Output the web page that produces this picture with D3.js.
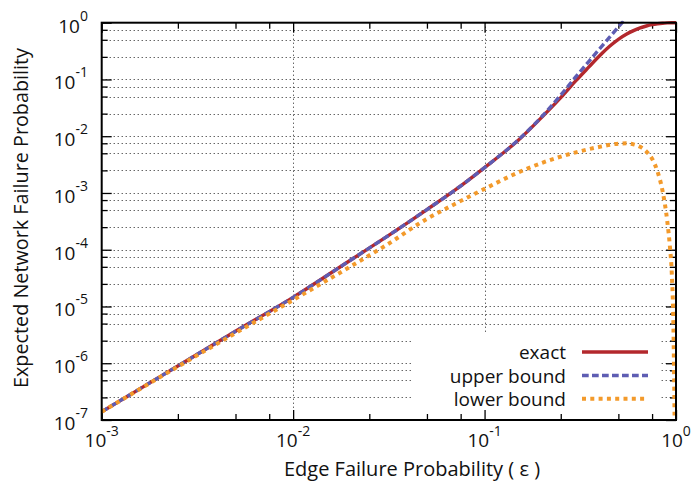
<!DOCTYPE html>
<html>
<head>
<meta charset="utf-8">
<script src="https://cdn.jsdelivr.net/npm/d3@7"></script>
<style>
  body { margin: 0; background: #fff; }
  text { font-family: "Open Sans", sans-serif; fill: #111; }
</style>
</head>
<body>
<script>
// edge failure probability (x) and the three curves
var epsExact = [0.001, 0.002, 0.005, 0.01, 0.02, 0.03, 0.05, 0.07, 0.1, 0.15, 0.2, 0.25, 0.3, 0.35, 0.4, 0.45, 0.5, 0.55, 0.6, 0.65, 0.7, 0.75, 0.8, 0.85, 0.9, 0.95, 1.0];
var exact    = [1.4e-7, 5.7e-7, 3.65e-6, 1.45e-5, 6.6e-5, 1.6e-4, 5.1e-4, 1.12e-3, 2.8e-3, 8.5e-3, 2.2e-2, 4.8e-2, 9.5e-2, 0.165, 0.265, 0.385, 0.51, 0.625, 0.725, 0.81, 0.875, 0.925, 0.958, 0.98, 0.992, 0.998, 1.0];

var epsUpper = [0.001, 0.002, 0.005, 0.01, 0.02, 0.03, 0.05, 0.07, 0.1, 0.15, 0.2, 0.25, 0.3, 0.35, 0.4, 0.45, 0.5, 0.55, 0.6];
var upper    = [1.4e-7, 5.7e-7, 3.65e-6, 1.45e-5, 6.6e-5, 1.6e-4, 5.1e-4, 1.12e-3, 2.8e-3, 8.6e-3, 2.25e-2, 5.3e-2, 0.112, 0.207, 0.35, 0.555, 0.84, 1.22, 1.7];

var epsLower = [0.001, 0.002, 0.005, 0.01, 0.02, 0.03, 0.05, 0.07, 0.1, 0.15, 0.2, 0.3, 0.4, 0.5, 0.55, 0.6, 0.65, 0.7, 0.75, 0.8, 0.85, 0.9, 0.93, 0.95, 0.97, 0.98, 0.99];
var lower    = [1.4e-7, 5.6e-7, 3.4e-6, 1.3e-5, 5.1e-5, 1.15e-4, 3.5e-4, 6.4e-4, 1.18e-3, 2.3e-3, 3.4e-3, 5.2e-3, 6.5e-3, 7.4e-3, 7.5e-3, 7.2e-3, 6.5e-3, 5.4e-3, 4.0e-3, 2.4e-3, 1.1e-3, 3.2e-4, 1.1e-4, 4.0e-5, 4.0e-6, 3e-7, 1e-8];

var xMajor = [-3, -2, -1, 0];            // exponents
var yMajor = [-7, -6, -5, -4, -3, -2, -1, 0];
var minorMant = [2.5, 5, 7.5];

var seriesNames = ["exact", "upper bound", "lower bound"];
var seriesColors = ["#b3282d", "#5e5db3", "#f39a2b"];

var width = 693, height = 494;
var pL = 101.7, pR = 676, pT = 22.7, pB = 420;

var svg = d3.select("body").append("svg").attr("width", width).attr("height", height);

var x = d3.scaleLog().domain([1e-3, 1]).range([pL, pR]);
var y = d3.scaleLog().domain([1e-7, 1]).range([pB, pT]);

var xMinor = [], yMinor = [];
xMajor.slice(0, -1).forEach(function (k) { minorMant.forEach(function (m) { xMinor.push(m * Math.pow(10, k)); }); });
yMajor.slice(0, -1).forEach(function (k) { minorMant.forEach(function (m) { yMinor.push(m * Math.pow(10, k)); }); });
var xMajV = xMajor.map(function (k) { return Math.pow(10, k); });
var yMajV = yMajor.map(function (k) { return Math.pow(10, k); });

// grid
var grid = svg.append("g").attr("stroke", "#222").attr("stroke-width", 1).attr("stroke-dasharray", "1,3");
grid.selectAll(".hg").data(yMajV.slice(1, -1).concat(yMinor)).enter().append("line")
  .attr("x1", pL).attr("x2", pR)
  .attr("y1", function (d) { return Math.round(y(d)) + 0.5; })
  .attr("y2", function (d) { return Math.round(y(d)) + 0.5; });
grid.selectAll(".vg").data(xMajV.slice(1, -1)).enter().append("line")
  .attr("y1", pT).attr("y2", pB)
  .attr("x1", function (d) { return Math.round(x(d)) + 0.5; })
  .attr("x2", function (d) { return Math.round(x(d)) + 0.5; });

// legend background hides grid
svg.append("rect").attr("x", 412).attr("y", 332).attr("width", 249).attr("height", pB - 332).attr("fill", "#fff");

// ticks on all four sides, pointing inward
function ticks(axisFn, scale, vals, size, tr) {
  var a = axisFn(scale).tickValues(vals).tickSize(-size).tickFormat("");
  var g = svg.append("g").attr("transform", tr).call(a);
  g.select(".domain").remove();
  g.selectAll("line").attr("stroke", "#000").attr("stroke-width", 1.3);
}
ticks(d3.axisBottom, x, xMajV, 10, "translate(0," + pB + ")");
ticks(d3.axisBottom, x, xMinor, 6, "translate(0," + pB + ")");
ticks(d3.axisTop, x, xMajV, 10, "translate(0," + pT + ")");
ticks(d3.axisTop, x, xMinor, 6, "translate(0," + pT + ")");
ticks(d3.axisLeft, y, yMajV, 10, "translate(" + pL + ",0)");
ticks(d3.axisLeft, y, yMinor, 6, "translate(" + pL + ",0)");
ticks(d3.axisRight, y, yMajV, 10, "translate(" + pR + ",0)");
ticks(d3.axisRight, y, yMinor, 6, "translate(" + pR + ",0)");

// curves
svg.append("clipPath").attr("id", "clip").append("rect")
  .attr("x", pL).attr("y", pT - 2).attr("width", pR - pL).attr("height", pB - pT + 2);

var line = d3.line().x(function (d) { return x(d[0]); }).y(function (d) { return y(Math.max(d[1], 1e-9)); }).curve(d3.curveMonotoneX);
var curves = svg.append("g").attr("clip-path", "url(#clip)").attr("fill", "none");

curves.append("path").datum(d3.zip(epsExact, exact)).attr("d", line)
  .attr("stroke", seriesColors[0]).attr("stroke-width", 3.4);
curves.append("path").datum(d3.zip(epsUpper, upper)).attr("d", line)
  .attr("stroke", seriesColors[1]).attr("stroke-width", 3.4).attr("stroke-dasharray", "6.7,3.3");
curves.append("path").datum(d3.zip(epsLower, lower)).attr("d", line)
  .attr("stroke", seriesColors[2]).attr("stroke-width", 4).attr("stroke-dasharray", "4,4.3");

// frame
svg.append("rect").attr("x", pL).attr("y", pT).attr("width", pR - pL).attr("height", pB - pT)
  .attr("fill", "none").attr("stroke", "#000").attr("stroke-width", 2);

// tick labels
var xl = svg.append("g").selectAll("text").data(xMajor).enter().append("text")
  .attr("x", function (k) { return x(Math.pow(10, k)); }).attr("y", 447)
  .attr("text-anchor", "middle").style("font-size", "19px");
xl.append("tspan").text("10");
xl.append("tspan").attr("dy", -11).style("font-size", "14px").text(function (k) { return k; });

var yl = svg.append("g").selectAll("text").data(yMajor).enter().append("text")
  .attr("x", 88).attr("y", function (k) { return y(Math.pow(10, k)) + 10; })
  .attr("text-anchor", "end").style("font-size", "19px");
yl.append("tspan").text("10");
yl.append("tspan").attr("dy", -12).style("font-size", "14px").text(function (k) { return k; });

// axis titles
svg.append("text").attr("x", 412).attr("y", 476).attr("text-anchor", "middle")
  .style("font-size", "20px").text("Edge Failure Probability ( \u03b5 )");
svg.append("text").attr("transform", "translate(28,218) rotate(-90)").attr("text-anchor", "middle")
  .style("font-size", "19.8px").text("Expected Network Failure Probability");

// legend
var legY = [352, 375.5, 398.7];
var leg = svg.append("g");
seriesNames.forEach(function (n, i) {
  leg.append("text").attr("x", 566).attr("y", legY[i] + 7).attr("text-anchor", "end")
    .style("font-size", "19px").text(n);
  var l = leg.append("line").attr("x1", 582).attr("x2", 648).attr("y1", legY[i]).attr("y2", legY[i])
    .attr("stroke", seriesColors[i]).attr("stroke-width", i == 2 ? 4 : 3.4);
  if (i == 1) l.attr("stroke-dasharray", "6.7,3.3");
  if (i == 2) l.attr("stroke-dasharray", "4,4.3");
});
</script>
</body>
</html>
